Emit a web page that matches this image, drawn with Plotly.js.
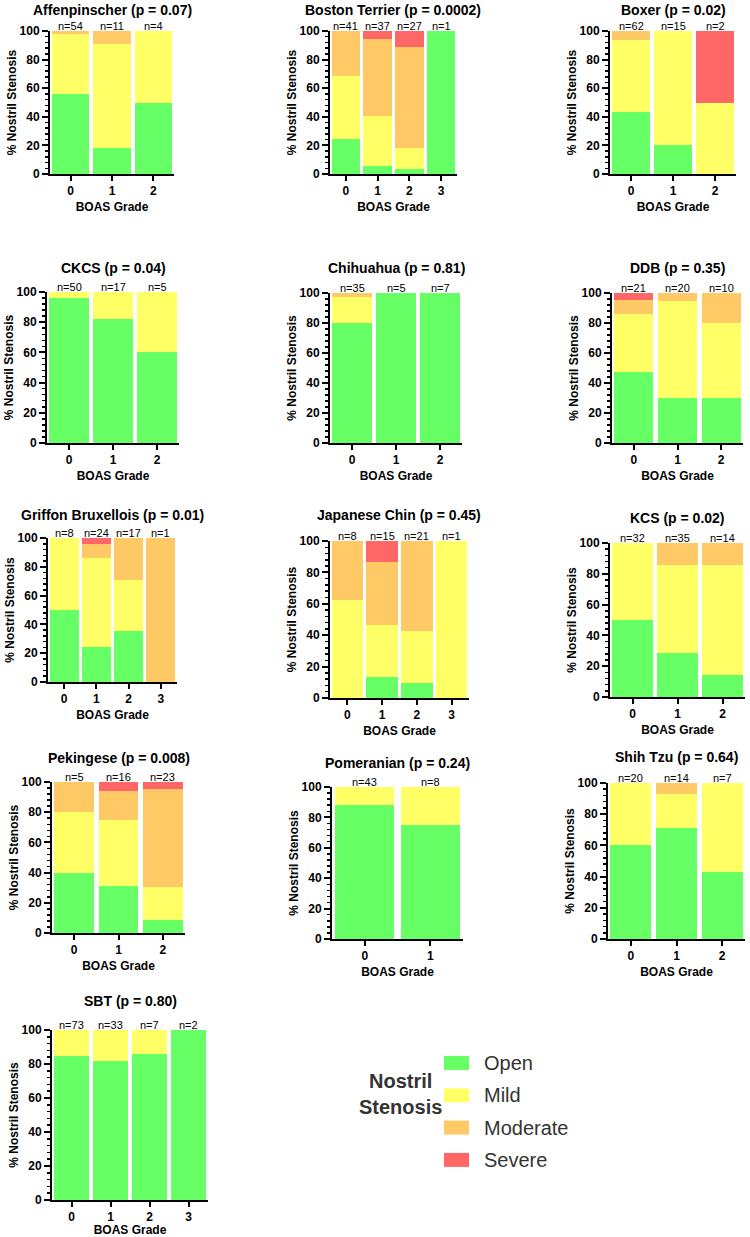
<!DOCTYPE html>
<html>
<head>
<meta charset="utf-8">
<script src="https://cdn.plot.ly/plotly-3.0.1.min.js"></script>
<style>
  html, body { margin: 0; padding: 0; background: #ffffff; }
  #chart { width: 750px; height: 1237px; }
</style>
</head>
<body>
<div id="chart"></div>
<script>
// Nostril stenosis by BOAS grade, one stacked panel per breed (percent of dogs)
const breeds = ['Affenpinscher', 'Boston Terrier', 'Boxer', 'CKCS', 'Chihuahua', 'DDB',
  'Griffon Bruxellois', 'Japanese Chin', 'KCS', 'Pekingese', 'Pomeranian', 'Shih Tzu', 'SBT'];
const pValues = ['0.07', '0.0002', '0.02', '0.04', '0.81', '0.35',
  '0.01', '0.45', '0.02', '0.008', '0.24', '0.64', '0.80'];
const gradeLabels = ['0', '1', '2', '3'];
const stenosisLevels = ['Open', 'Mild', 'Moderate', 'Severe'];

const sampleSizes = [
  [54, 11, 4], [41, 37, 27, 1], [62, 15, 2], [50, 17, 5], [35, 5, 7], [21, 20, 10],
  [8, 24, 17, 1], [8, 15, 21, 1], [32, 35, 14], [5, 16, 23], [43, 8], [20, 14, 7], [73, 33, 7, 2]
];
const openPct = [
  [55.6, 18.2, 50], [24.4, 5.4, 3.7, 100], [43.5, 20, 0], [96, 82.4, 60], [80, 100, 100], [47.6, 30, 30],
  [50, 24, 35.3, 0], [0, 13.3, 9.5, 0], [50, 28.6, 14.3], [40, 31.2, 8.7], [88.4, 75], [60, 71.4, 42.9], [84.9, 81.8, 85.7, 100]
];
const mildPct = [
  [42.6, 72.7, 50], [43.9, 35.1, 14.8, 0], [50, 80, 50], [4, 17.6, 40], [17.1, 0, 0], [38.1, 65, 50],
  [50, 62, 35.3, 0], [62.5, 33.3, 33.3, 100], [50, 57.1, 71.4], [40, 43.8, 21.7], [11.6, 25], [40, 21.4, 57.1], [15.1, 18.2, 14.3, 0]
];
const moderatePct = [
  [1.8, 9.1, 0], [31.7, 54.1, 70.4, 0], [6.5, 0, 0], [0, 0, 0], [2.9, 0, 0], [9.5, 5, 20],
  [0, 10, 29.4, 100], [37.5, 40, 57.1, 0], [0, 14.3, 14.3], [20, 18.8, 65.2], [0, 0], [0, 7.1, 0], [0, 0, 0, 0]
];
const severePct = [
  [0, 0, 0], [0, 5.4, 11.1, 0], [0, 0, 50], [0, 0, 0], [0, 0, 0], [4.8, 0, 0],
  [0, 4, 0, 0], [0, 13.3, 0, 0], [0, 0, 0], [0, 6.2, 4.3], [0, 0], [0, 0, 0], [0, 0, 0, 0]
];

// Styling
const levelColors = ['#66FF66', '#FFFF66', '#FFC966', '#FF6666'];
const FONT = 'Liberation Sans, Arial, sans-serif';
const W = 750, H = 1237;

// Panel frames in pixels: left axis x, right end x, top y, bottom y, title centre y
const frames = [
  [50, 174, 31, 174, 10], [330, 457, 31, 174, 10], [610, 736, 31, 174, 10],
  [47, 179, 292, 443, 268], [330, 462, 293, 443, 268], [612, 743, 293, 443, 268],
  [48, 177, 538, 682, 515], [330, 469, 541, 698, 515], [610, 745, 543, 697, 518],
  [52, 185, 782, 933, 758], [332, 463, 787, 939, 763], [608, 745, 783, 939, 757],
  [52, 208, 1030, 1200, 1001]
];

const seriesByLevel = [openPct, mildPct, moderatePct, severePct];
const traces = [];
const annotations = [];
const layout = {
  width: W, height: H,
  margin: { l: 0, r: 0, t: 0, b: 0 },
  paper_bgcolor: '#ffffff', plot_bgcolor: '#ffffff',
  barmode: 'stack', bargap: 0.1,
  showlegend: false,
  font: { family: FONT, color: '#000000' },
  shapes: []
};

breeds.forEach((breed, i) => {
  const s = i === 0 ? '' : String(i + 1);
  const n = sampleSizes[i].length;
  const cats = gradeLabels.slice(0, n);
  const [x0, x1, yt, yb, ty] = frames[i];

  seriesByLevel.forEach((series, k) => {
    traces.push({
      type: 'bar', name: stenosisLevels[k],
      x: cats, y: series[i],
      xaxis: 'x' + s, yaxis: 'y' + s,
      marker: { color: levelColors[k], line: { width: 0 } },
      hoverinfo: 'skip'
    });
  });

  layout['xaxis' + s] = {
    domain: [x0 / W, x1 / W], anchor: 'y' + s,
    type: 'category', range: [-0.5, n - 0.5],
    showline: true, linecolor: '#000000', linewidth: 2,
    ticks: 'outside', ticklen: 5, tickwidth: 2, tickcolor: '#000000',
    tickfont: { family: FONT, size: 12, color: '#000000', weight: 'bold' },
    title: { text: 'BOAS Grade', font: { family: FONT, size: 12, color: '#000000', weight: 'bold' }, standoff: 5 },
    showgrid: false, zeroline: false, automargin: false, fixedrange: true
  };
  layout['yaxis' + s] = {
    domain: [1 - yb / H, 1 - yt / H], anchor: 'x' + s,
    range: [0, 100], tick0: 0, dtick: 20,
    showline: true, linecolor: '#000000', linewidth: 2,
    ticks: 'outside', ticklen: 6, tickwidth: 2, tickcolor: '#000000',
    minor: { dtick: 4, ticks: 'outside', ticklen: 3, tickwidth: 1.5, tickcolor: '#000000', showgrid: false },
    tickfont: { family: FONT, size: 12, color: '#000000', weight: 'bold' },
    title: { text: '% Nostril Stenosis', font: { family: FONT, size: 12, color: '#000000', weight: 'bold' }, standoff: 0 },
    showgrid: false, zeroline: false, automargin: false, fixedrange: true
  };

  // sample size above each bar
  cats.forEach((c, j) => {
    annotations.push({
      xref: 'x' + s, yref: 'y' + s, x: c, y: 100,
      text: 'n=' + sampleSizes[i][j], showarrow: false,
      yanchor: 'bottom', yshift: -3,
      font: { family: FONT, size: 11, color: '#000000' }
    });
  });

  // panel title
  annotations.push({
    xref: 'paper', yref: 'paper', x: (x0 + x1) / 2 / W, y: 1 - ty / H,
    xanchor: 'center', yanchor: 'middle', showarrow: false,
    text: breed + ' (p = ' + pValues[i] + ')',
    font: { family: FONT, size: 14, color: '#000000', weight: 'bold' }
  });
});

// Key: heading on the left, swatches with level names on the right
annotations.push({
  xref: 'paper', yref: 'paper', x: 401 / W, y: 1 - 1094 / H,
  xanchor: 'center', yanchor: 'middle', showarrow: false, align: 'center',
  text: 'Nostril<br>Stenosis',
  font: { family: FONT, size: 20, color: '#333333', weight: 'bold' }
});
stenosisLevels.forEach((lvl, k) => {
  const cy = 1063 + k * 32.3;
  layout.shapes.push({
    type: 'rect', xref: 'paper', yref: 'paper',
    x0: 444 / W, x1: 469 / W, y0: 1 - (cy + 7) / H, y1: 1 - (cy - 7) / H,
    fillcolor: levelColors[k], line: { width: 0 }
  });
  annotations.push({
    xref: 'paper', yref: 'paper', x: 482 / W, y: 1 - cy / H,
    xanchor: 'left', yanchor: 'middle', showarrow: false,
    text: lvl, font: { family: FONT, size: 20, color: '#333333' }
  });
});

layout.annotations = annotations;

Plotly.newPlot('chart', traces, layout, { staticPlot: true, displayModeBar: false });
</script>
</body>
</html>
